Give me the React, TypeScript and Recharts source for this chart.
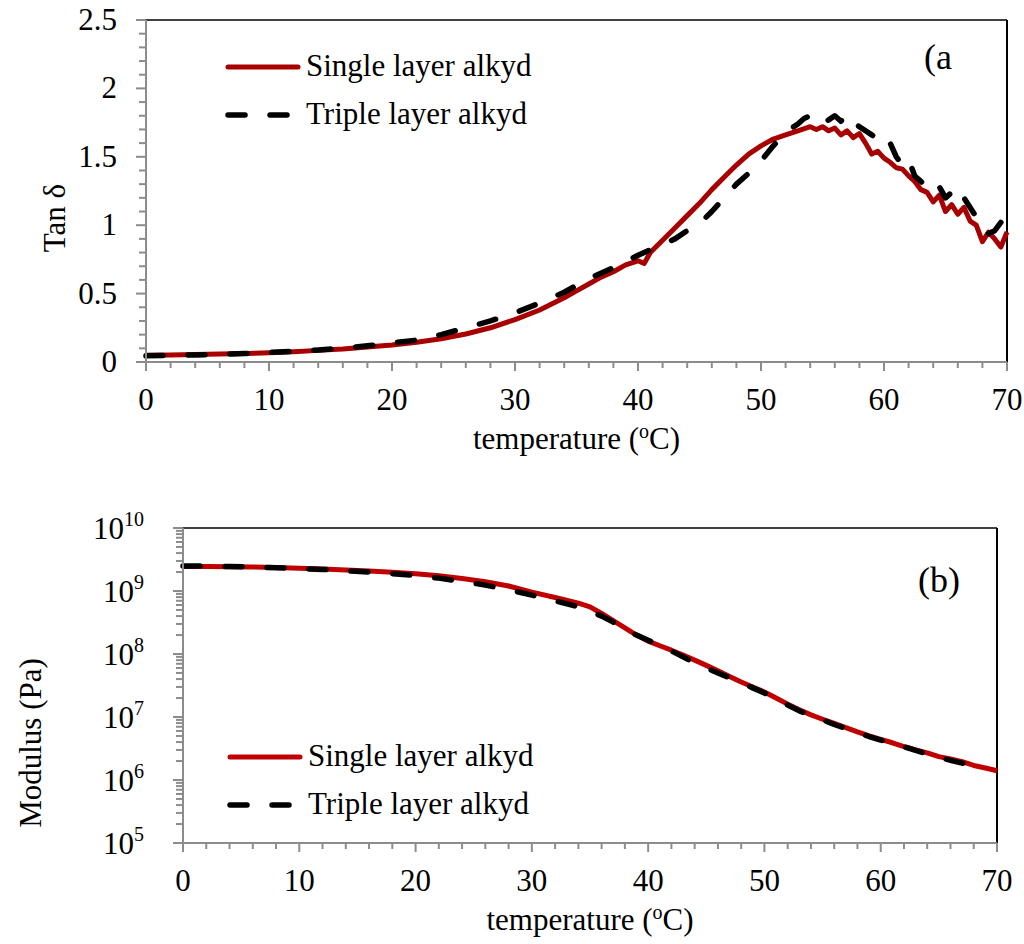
import React from 'react';
import { LineChart, Line, XAxis, YAxis, ReferenceLine } from 'recharts';

const FONT = '"Liberation Serif", "Times New Roman", serif';
const AXIS = '#8c8c8c';
const RED_A = '#A80000';
const RED_B = '#C00000';

// ---- Panel (a): tan delta ----
const tanSingleT = [0,2,4,6,8,10,12,14,16,18,20,22,24,26,28,30,32,34,35,36,37,38,39,40,40.5,41,42,43,44,45,46,47,48,49,50,51,52,53,54,54.5,55,55.5,56,56.5,57,57.5,58,58.5,59,59.5,60,60.5,61,61.5,62,62.5,63,63.5,64,64.5,65,65.5,66,66.5,67,67.5,68,68.5,69,69.5,70];
const tanSingleV = [0.050,0.052,0.055,0.058,0.062,0.068,0.075,0.085,0.095,0.11,0.125,0.145,0.17,0.205,0.25,0.31,0.38,0.47,0.52,0.57,0.62,0.66,0.71,0.74,0.72,0.80,0.89,0.98,1.07,1.16,1.26,1.35,1.44,1.52,1.58,1.63,1.66,1.69,1.72,1.70,1.72,1.69,1.71,1.66,1.69,1.64,1.67,1.60,1.52,1.54,1.49,1.46,1.42,1.41,1.36,1.32,1.26,1.24,1.17,1.22,1.10,1.15,1.08,1.13,1.03,1.00,0.88,0.95,0.90,0.84,0.95];

const tanTripleT = [0,2,4,6,8,10,12,14,16,18,20,22,24,26,28,30,32,34,36,38,40,42,43,44,45,46,47,48,49,50,51,52,53,53.5,54,54.5,55,55.5,56,56.5,57,57.5,58,58.5,59,59.5,60,60.5,61,61.5,62,62.5,63,63.5,64,64.5,65,65.5,66,66.5,67,67.5,68,68.5,69,69.5];
const tanTripleV = [0.045,0.048,0.052,0.056,0.062,0.07,0.078,0.088,0.10,0.118,0.14,0.16,0.20,0.25,0.30,0.36,0.43,0.51,0.61,0.69,0.78,0.86,0.90,0.96,1.01,1.10,1.20,1.30,1.38,1.47,1.58,1.68,1.74,1.78,1.80,1.76,1.74,1.77,1.80,1.76,1.81,1.75,1.72,1.69,1.66,1.63,1.57,1.60,1.50,1.44,1.48,1.36,1.32,1.28,1.24,1.28,1.20,1.24,1.16,1.20,1.13,1.06,1.02,0.94,0.96,1.02];

const tanTicks = [0,0.1,0.2,0.3,0.4,0.5,0.6,0.7,0.8,0.9,1,1.1,1.2,1.3,1.4,1.5,1.6,1.7,1.8,1.9,2,2.1,2.2,2.3,2.4,2.5];
const tempTicks = [0,2,4,6,8,10,12,14,16,18,20,22,24,26,28,30,32,34,36,38,40,42,44,46,48,50,52,54,56,58,60,62,64,66,68,70];

// ---- Panel (b): modulus ----
const modSingleT = [0,2,4,6,8,10,12,14,16,18,20,22,24,26,28,30,32,34,35,36,37,38,39,40,41,42,43,44,45,46,47,48,49,50,51,52,53,54,55,56,57,58,59,60,61,62,63,64,65,66,67,68,69,70];
const modSingleV = [2.45e9,2.44e9,2.42e9,2.4e9,2.36e9,2.3e9,2.24e9,2.16e9,2.08e9,1.98e9,1.88e9,1.74e9,1.58e9,1.4e9,1.2e9,9.6e8,7.9e8,6.4e8,5.6e8,4.4e8,3.4e8,2.6e8,2.0e8,1.6e8,1.35e8,1.15e8,9.6e7,8.0e7,6.6e7,5.4e7,4.4e7,3.6e7,3.0e7,2.5e7,2.0e7,1.6e7,1.3e7,1.08e7,9.2e6,7.9e6,6.8e6,5.8e6,5.0e6,4.4e6,3.9e6,3.4e6,3.0e6,2.7e6,2.35e6,2.15e6,1.95e6,1.7e6,1.55e6,1.4e6];

const modTripleT = [0,2,4,6,8,10,12,14,16,18,20,22,24,26,28,30,32,34,36,37,38,39,40,41,42,43,44,45,46,47,48,49,50,51,52,53,54,55,56,57,58,59,60,61,62,63,64,65,66,67,68,69];
const modTripleV = [2.5e9,2.48e9,2.45e9,2.4e9,2.34e9,2.27e9,2.2e9,2.1e9,2.0e9,1.88e9,1.76e9,1.6e9,1.42e9,1.24e9,1.05e9,8.6e8,7.0e8,5.6e8,4.0e8,3.2e8,2.5e8,2.0e8,1.65e8,1.38e8,1.12e8,9.0e7,7.2e7,6.0e7,5.0e7,4.2e7,3.5e7,2.9e7,2.4e7,1.95e7,1.55e7,1.25e7,1.05e7,9.0e6,7.6e6,6.6e6,5.7e6,4.9e6,4.3e6,3.8e6,3.35e6,2.95e6,2.6e6,2.3e6,2.05e6,1.85e6,1.7e6,1.55e6];

const modTicks = [1e5,2e5,3e5,4e5,5e5,6e5,7e5,8e5,9e5,1e6,2e6,3e6,4e6,5e6,6e6,7e6,8e6,9e6,1e7,2e7,3e7,4e7,5e7,6e7,7e7,8e7,9e7,1e8,2e8,3e8,4e8,5e8,6e8,7e8,8e8,9e8,1e9,2e9,3e9,4e9,5e9,6e9,7e9,8e9,9e9,1e10];

const seriesNames = ['Single layer alkyd', 'Triple layer alkyd'];

const zip = (t: number[], v: number[]) => t.map((x, i) => ({ t: x, v: v[i] }));
const tanSingle = zip(tanSingleT, tanSingleV);
const tanTriple = zip(tanTripleT, tanTripleV);
const modSingle = zip(modSingleT, modSingleV);
const modTriple = zip(modTripleT, modTripleV);

const XTick = (props: any) => {
  const { x, y, payload } = props;
  const v = payload.value;
  const major = v % 10 === 0;
  return (
    <g>
      <line x1={x} y1={y} x2={x} y2={y + (major ? 9 : 6)} stroke={AXIS} strokeWidth={2} />
      {major && (
        <text x={x} y={y + 48} textAnchor="middle" fontSize={31} fontFamily={FONT} fill="#000">{v}</text>
      )}
    </g>
  );
};

const TanTick = (props: any) => {
  const { x, y, payload } = props;
  const v = payload.value;
  const major = Math.abs(v * 2 - Math.round(v * 2)) < 1e-6;
  return (
    <g>
      <line x1={x - (major ? 10 : 7)} y1={y} x2={x} y2={y} stroke={AXIS} strokeWidth={2} />
      {major && (
        <text x={x - 29} y={y + 10} textAnchor="end" fontSize={31} fontFamily={FONT} fill="#000">{String(Math.round(v * 10) / 10)}</text>
      )}
    </g>
  );
};

const ModTick = (props: any) => {
  const { x, y, payload } = props;
  const v = payload.value;
  const e = Math.log10(v);
  const major = Math.abs(e - Math.round(e)) < 1e-6;
  return (
    <g>
      <line x1={x - (major ? 10 : 7)} y1={y} x2={x} y2={y} stroke={AXIS} strokeWidth={2} />
      {major && (
        <text x={x - 39} y={y + 11} textAnchor="end" fontSize={31} fontFamily={FONT} fill="#000">
          10<tspan dy={-13} fontSize={20}>{Math.round(e)}</tspan>
        </text>
      )}
    </g>
  );
};

const TempLabel = (cx: number, by: number) => (
  <text x={cx} y={by} textAnchor="middle" fontSize={31} fontFamily={FONT} fill="#000">
    temperature (<tspan dy={-11} fontSize={20}>o</tspan><tspan dy={11}>C)</tspan>
  </text>
);

const Legend = ({ x, y, red }: { x: number; y: number; red: string }) => (
  <g>
    <line x1={x} y1={y} x2={x + 70} y2={y} stroke={red} strokeWidth={5} strokeLinecap="round" />
    <text x={x + 78} y={y + 9} fontSize={31} fontFamily={FONT} fill="#000">{seriesNames[0]}</text>
    <line x1={x} y1={y + 48} x2={x + 70} y2={y + 48} stroke="#000" strokeWidth={5.5} strokeLinecap="round" strokeDasharray="17 25" />
    <text x={x + 78} y={y + 57} fontSize={31} fontFamily={FONT} fill="#000">{seriesNames[1]}</text>
  </g>
);

export default function App() {
  return (
    <div style={{ position: 'absolute', left: 0, top: 0, width: 1024, height: 944, background: '#fff' }}>
      <div style={{ position: 'absolute', left: 0, top: 0 }}>
        <LineChart width={1024} height={470} margin={{ top: 20, right: 17, bottom: 0, left: 0 }}>
          <XAxis
            dataKey="t"
            type="number"
            domain={[0, 70]}
            ticks={tempTicks}
            interval={0}
            tickSize={0}
            tickMargin={0}
            tickLine={false}
            height={108}
            axisLine={{ stroke: AXIS, strokeWidth: 2 }}
            tick={<XTick />}
            label={{ content: (p: any) => TempLabel(p.viewBox.x + p.viewBox.width / 2, p.viewBox.y + 87) }}
          />
          <YAxis
            type="number"
            domain={[0, 2.5]}
            ticks={tanTicks}
            interval={0}
            tickSize={0}
            tickMargin={0}
            tickLine={false}
            width={146}
            axisLine={{ stroke: AXIS, strokeWidth: 2 }}
            tick={<TanTick />}
            label={{
              content: () => (
                <text x={54} y={218} transform="rotate(-90 54 218)" textAnchor="middle" dominantBaseline="central" fontSize={31} fontFamily={FONT} fill="#000">Tan δ</text>
              ),
            }}
          />
          <ReferenceLine y={2.5} stroke="#000" strokeWidth={1.5} />
          <ReferenceLine x={70} stroke="#000" strokeWidth={2} />
          <Line data={tanSingle} dataKey="v" name={seriesNames[0]} stroke={RED_A} strokeWidth={5} dot={false} isAnimationActive={false} strokeLinejoin="round" />
          <Line data={tanTriple} dataKey="v" name={seriesNames[1]} stroke="#000" strokeWidth={5.5} strokeDasharray="17 25" strokeLinecap="round" dot={false} isAnimationActive={false} strokeLinejoin="round" />
        </LineChart>
      </div>
      <div style={{ position: 'absolute', left: 0, top: 470 }}>
        <LineChart width={1024} height={474} margin={{ top: 58, right: 27, bottom: 0, left: 0 }}>
          <XAxis
            dataKey="t"
            type="number"
            domain={[0, 70]}
            ticks={tempTicks}
            interval={0}
            tickSize={0}
            tickMargin={0}
            tickLine={false}
            height={101}
            axisLine={{ stroke: AXIS, strokeWidth: 2 }}
            tick={<XTick />}
            label={{ content: (p: any) => TempLabel(p.viewBox.x + p.viewBox.width / 2, p.viewBox.y + 87) }}
          />
          <YAxis
            type="number"
            scale="log"
            domain={[1e5, 1e10]}
            allowDataOverflow
            ticks={modTicks}
            interval={0}
            tickSize={0}
            tickMargin={0}
            tickLine={false}
            width={183}
            axisLine={{ stroke: AXIS, strokeWidth: 2 }}
            tick={<ModTick />}
            label={{
              content: () => (
                <text x={30} y={273} transform="rotate(-90 30 273)" textAnchor="middle" dominantBaseline="central" fontSize={31} fontFamily={FONT} fill="#000">Modulus (Pa)</text>
              ),
            }}
          />
          <ReferenceLine y={1e10} stroke="#000" strokeWidth={1.5} />
          <ReferenceLine x={70} stroke="#000" strokeWidth={2} />
          <Line data={modSingle} dataKey="v" name={seriesNames[0]} stroke={RED_B} strokeWidth={5} dot={false} isAnimationActive={false} strokeLinejoin="round" />
          <Line data={modTriple} dataKey="v" name={seriesNames[1]} stroke="#000" strokeWidth={5.5} strokeDasharray="17 25" strokeLinecap="round" dot={false} isAnimationActive={false} strokeLinejoin="round" />
        </LineChart>
      </div>
      <svg width={1024} height={944} style={{ position: 'absolute', left: 0, top: 0, pointerEvents: 'none' }}>
        <Legend x={228} y={67} red={RED_A} />
        <text x={924} y={69} fontSize={36} fontFamily={FONT} fill="#000">(a</text>
        <Legend x={230} y={757} red={RED_B} />
        <text x={918} y={592} fontSize={36} fontFamily={FONT} fill="#000">(b)</text>
      </svg>
    </div>
  );
}
